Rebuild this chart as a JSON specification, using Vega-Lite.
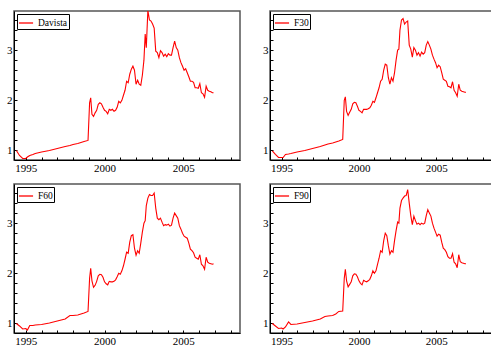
{
  "$schema": "https://vega.github.io/schema/vega-lite/v6.json",
  "padding": {"left": 0, "top": 10, "right": 2, "bottom": 0},
  "background": "white",
  "datasets": {
    "d": [
      {"t": 1994.4, "Davista": 1.0, "F30": 0.99, "F60": 1.0, "F90": 1.0},
      {"t": 1994.6, "Davista": 0.9, "F30": 0.92, "F60": 0.95, "F90": 0.95},
      {"t": 1994.8, "Davista": 0.84, "F30": 0.86, "F60": 0.89, "F90": 0.9},
      {"t": 1995.0, "Davista": 0.84, "F30": 0.86, "F60": 0.9, "F90": 0.91},
      {"t": 1995.1, "Davista": 0.87, "F30": 0.86, "F60": 0.87, "F90": 0.89},
      {"t": 1995.25, "Davista": 0.9, "F30": 0.92, "F60": 0.96, "F90": 0.93},
      {"t": 1995.45, "Davista": 0.92, "F30": 0.93, "F60": 0.96, "F90": 1.03},
      {"t": 1995.6, "Davista": 0.94, "F30": 0.94, "F60": 0.97, "F90": 0.98},
      {"t": 1996.0, "Davista": 0.97, "F30": 0.97, "F60": 0.98, "F90": 0.99},
      {"t": 1996.5, "Davista": 1.0, "F30": 1.0, "F60": 1.01, "F90": 1.02},
      {"t": 1997.0, "Davista": 1.04, "F30": 1.04, "F60": 1.05, "F90": 1.05},
      {"t": 1997.5, "Davista": 1.08, "F30": 1.08, "F60": 1.09, "F90": 1.09},
      {"t": 1997.8, "Davista": 1.1, "F30": 1.11, "F60": 1.16, "F90": 1.14},
      {"t": 1998.0, "Davista": 1.12, "F30": 1.13, "F60": 1.16, "F90": 1.15},
      {"t": 1998.3, "Davista": 1.14, "F30": 1.15, "F60": 1.17, "F90": 1.16},
      {"t": 1998.5, "Davista": 1.16, "F30": 1.17, "F60": 1.19, "F90": 1.19},
      {"t": 1998.7, "Davista": 1.18, "F30": 1.19, "F60": 1.21, "F90": 1.24},
      {"t": 1998.95, "Davista": 1.2, "F30": 1.22, "F60": 1.24, "F90": 1.25},
      {"t": 1999.05, "Davista": 1.95, "F30": 2.0, "F60": 1.9, "F90": 1.9},
      {"t": 1999.12, "Davista": 2.05, "F30": 2.07, "F60": 2.1, "F90": 2.08},
      {"t": 1999.2, "Davista": 1.72, "F30": 1.78, "F60": 1.85, "F90": 1.85},
      {"t": 1999.3, "Davista": 1.68, "F30": 1.7, "F60": 1.72, "F90": 1.73},
      {"t": 1999.4, "Davista": 1.75, "F30": 1.76, "F60": 1.76, "F90": 1.78},
      {"t": 1999.5, "Davista": 1.8, "F30": 1.82, "F60": 1.84, "F90": 1.83},
      {"t": 1999.6, "Davista": 1.92, "F30": 1.93, "F60": 1.95, "F90": 1.95},
      {"t": 1999.7, "Davista": 1.95, "F30": 1.96, "F60": 1.98, "F90": 1.99},
      {"t": 1999.8, "Davista": 1.93, "F30": 1.95, "F60": 1.97, "F90": 1.98},
      {"t": 1999.9, "Davista": 1.86, "F30": 1.88, "F60": 1.92, "F90": 1.93},
      {"t": 2000.0, "Davista": 1.8, "F30": 1.8, "F60": 1.83, "F90": 1.85},
      {"t": 2000.1, "Davista": 1.78, "F30": 1.78, "F60": 1.79, "F90": 1.8},
      {"t": 2000.2, "Davista": 1.73, "F30": 1.75, "F60": 1.77, "F90": 1.77},
      {"t": 2000.3, "Davista": 1.82, "F30": 1.82, "F60": 1.84, "F90": 1.86},
      {"t": 2000.4, "Davista": 1.8, "F30": 1.82, "F60": 1.83, "F90": 1.84},
      {"t": 2000.5, "Davista": 1.82, "F30": 1.82, "F60": 1.83, "F90": 1.83},
      {"t": 2000.6, "Davista": 1.78, "F30": 1.83, "F60": 1.84, "F90": 1.85},
      {"t": 2000.7, "Davista": 1.8, "F30": 1.85, "F60": 1.87, "F90": 1.88},
      {"t": 2000.8, "Davista": 1.86, "F30": 1.9, "F60": 1.93, "F90": 1.95},
      {"t": 2000.9, "Davista": 1.98, "F30": 1.98, "F60": 2.0, "F90": 2.05},
      {"t": 2001.0, "Davista": 1.95, "F30": 1.96, "F60": 1.98, "F90": 2.0},
      {"t": 2001.1, "Davista": 2.0, "F30": 2.05, "F60": 2.05, "F90": 2.05},
      {"t": 2001.2, "Davista": 2.1, "F30": 2.15, "F60": 2.15, "F90": 2.18},
      {"t": 2001.3, "Davista": 2.2, "F30": 2.25, "F60": 2.28, "F90": 2.3},
      {"t": 2001.4, "Davista": 2.38, "F30": 2.38, "F60": 2.42, "F90": 2.45},
      {"t": 2001.5, "Davista": 2.35, "F30": 2.42, "F60": 2.4, "F90": 2.42},
      {"t": 2001.6, "Davista": 2.52, "F30": 2.6, "F60": 2.62, "F90": 2.65},
      {"t": 2001.7, "Davista": 2.62, "F30": 2.72, "F60": 2.75, "F90": 2.8},
      {"t": 2001.8, "Davista": 2.68, "F30": 2.7, "F60": 2.77, "F90": 2.75},
      {"t": 2001.9, "Davista": 2.6, "F30": 2.45, "F60": 2.5, "F90": 2.55},
      {"t": 2002.0, "Davista": 2.32, "F30": 2.32, "F60": 2.36, "F90": 2.38},
      {"t": 2002.1, "Davista": 2.4, "F30": 2.45, "F60": 2.45, "F90": 2.45},
      {"t": 2002.2, "Davista": 2.32, "F30": 2.38, "F60": 2.4, "F90": 2.42},
      {"t": 2002.3, "Davista": 2.3, "F30": 2.55, "F60": 2.6, "F90": 2.65},
      {"t": 2002.4, "Davista": 2.5, "F30": 2.8, "F60": 2.82, "F90": 2.85},
      {"t": 2002.5, "Davista": 2.8, "F30": 3.0, "F60": 3.0, "F90": 3.02},
      {"t": 2002.58, "Davista": 3.32, "F30": 3.02, "F60": 3.05, "F90": 3.0},
      {"t": 2002.65, "Davista": 3.05, "F30": 3.4, "F60": 3.35, "F90": 3.3},
      {"t": 2002.75, "Davista": 3.79, "F30": 3.6, "F60": 3.5, "F90": 3.45},
      {"t": 2002.85, "Davista": 3.6, "F30": 3.63, "F60": 3.57, "F90": 3.5},
      {"t": 2002.95, "Davista": 3.58, "F30": 3.52, "F60": 3.55, "F90": 3.54},
      {"t": 2003.05, "Davista": 3.52, "F30": 3.56, "F60": 3.55, "F90": 3.55},
      {"t": 2003.15, "Davista": 3.44, "F30": 3.58, "F60": 3.6, "F90": 3.67},
      {"t": 2003.25, "Davista": 2.98, "F30": 3.1, "F60": 3.3, "F90": 3.4},
      {"t": 2003.35, "Davista": 2.95, "F30": 3.02, "F60": 3.1, "F90": 3.15},
      {"t": 2003.45, "Davista": 2.85, "F30": 2.86, "F60": 3.07, "F90": 2.97},
      {"t": 2003.55, "Davista": 2.99, "F30": 3.05, "F60": 3.1, "F90": 3.14},
      {"t": 2003.65, "Davista": 2.95, "F30": 3.0, "F60": 3.02, "F90": 3.05},
      {"t": 2003.75, "Davista": 2.88, "F30": 2.9, "F60": 2.95, "F90": 2.98},
      {"t": 2003.85, "Davista": 2.92, "F30": 2.95, "F60": 2.97, "F90": 3.0},
      {"t": 2003.95, "Davista": 2.87, "F30": 2.88, "F60": 2.96, "F90": 2.97},
      {"t": 2004.05, "Davista": 2.93, "F30": 2.96, "F60": 2.98, "F90": 3.0},
      {"t": 2004.15, "Davista": 2.9, "F30": 2.92, "F60": 2.94, "F90": 2.98},
      {"t": 2004.25, "Davista": 2.9, "F30": 2.95, "F60": 2.96, "F90": 3.0},
      {"t": 2004.35, "Davista": 3.05, "F30": 3.1, "F60": 3.1, "F90": 3.15},
      {"t": 2004.45, "Davista": 3.18, "F30": 3.17, "F60": 3.2, "F90": 3.27},
      {"t": 2004.55, "Davista": 3.05, "F30": 3.1, "F60": 3.15, "F90": 3.2},
      {"t": 2004.65, "Davista": 3.0, "F30": 3.02, "F60": 3.1, "F90": 3.14},
      {"t": 2004.75, "Davista": 2.85, "F30": 2.9, "F60": 2.95, "F90": 3.0},
      {"t": 2004.85, "Davista": 2.75, "F30": 2.82, "F60": 2.88, "F90": 2.9},
      {"t": 2004.95, "Davista": 2.68, "F30": 2.75, "F60": 2.8, "F90": 2.82},
      {"t": 2005.05, "Davista": 2.6, "F30": 2.65, "F60": 2.74, "F90": 2.74},
      {"t": 2005.15, "Davista": 2.63, "F30": 2.7, "F60": 2.72, "F90": 2.78},
      {"t": 2005.25, "Davista": 2.55, "F30": 2.67, "F60": 2.7, "F90": 2.76},
      {"t": 2005.35, "Davista": 2.47, "F30": 2.55, "F60": 2.6, "F90": 2.62},
      {"t": 2005.45, "Davista": 2.38, "F30": 2.42, "F60": 2.48, "F90": 2.5},
      {"t": 2005.55, "Davista": 2.38, "F30": 2.4, "F60": 2.45, "F90": 2.47},
      {"t": 2005.65, "Davista": 2.36, "F30": 2.38, "F60": 2.41, "F90": 2.42},
      {"t": 2005.75, "Davista": 2.25, "F30": 2.28, "F60": 2.32, "F90": 2.33},
      {"t": 2005.85, "Davista": 2.25, "F30": 2.27, "F60": 2.3, "F90": 2.3},
      {"t": 2005.95, "Davista": 2.24, "F30": 2.25, "F60": 2.28, "F90": 2.3},
      {"t": 2006.05, "Davista": 2.33, "F30": 2.37, "F60": 2.37, "F90": 2.39},
      {"t": 2006.15, "Davista": 2.15, "F30": 2.2, "F60": 2.18, "F90": 2.22},
      {"t": 2006.25, "Davista": 2.13, "F30": 2.15, "F60": 2.15, "F90": 2.19},
      {"t": 2006.35, "Davista": 2.06, "F30": 2.08, "F60": 2.08, "F90": 2.11},
      {"t": 2006.45, "Davista": 2.28, "F30": 2.32, "F60": 2.32, "F90": 2.37},
      {"t": 2006.55, "Davista": 2.2, "F30": 2.2, "F60": 2.22, "F90": 2.23},
      {"t": 2006.65, "Davista": 2.18, "F30": 2.18, "F60": 2.2, "F90": 2.21},
      {"t": 2006.75, "Davista": 2.17, "F30": 2.17, "F60": 2.19, "F90": 2.2},
      {"t": 2006.85, "Davista": 2.15, "F30": 2.16, "F60": 2.18, "F90": 2.19},
      {"t": 2006.92, "Davista": 2.15, "F30": 2.16, "F60": 2.19, "F90": 2.19}
    ]
  },
  "columns": 2,
  "spacing": {"row": 8, "column": 15},
  "resolve": {"scale": {"color": "independent"}, "legend": {"color": "independent"}},
  "concat": [
    {
      "width": 226, "height": 149,
      "data": {"name": "d"},
      "transform": [{"fold": ["Davista"], "as": ["series", "value"]}],
      "mark": {"type": "line", "strokeWidth": 1.1, "clip": true},
      "encoding": {
        "x": {"field": "t", "type": "quantitative", "title": null, "scale": {"domain": [1994.25, 2008.6], "nice": false, "zero": false},
              "axis": {"values": [1995, 1996, 1997, 1998, 1999, 2000, 2001, 2002, 2003, 2004, 2005, 2006, 2007, 2008], "labelExpr": "datum.value % 5 == 0 ? format(datum.value, 'd') : ''"}},
        "y": {"field": "value", "type": "quantitative", "title": null, "scale": {"domain": [0.81, 3.78], "nice": false, "zero": false},
              "axis": {"values": [1, 1.2, 1.4, 1.6, 1.8, 2, 2.2, 2.4, 2.6, 2.8, 3, 3.2, 3.4, 3.6], "labelExpr": "abs(datum.value - round(datum.value)) < 0.01 ? format(datum.value, 'd') : ''"}},
        "color": {"field": "series", "type": "nominal", "scale": {"range": ["#ff0000"]}, "legend": {"title": null}}
      }
    },
    {
      "width": 222, "height": 149,
      "data": {"name": "d"},
      "transform": [{"fold": ["F30"], "as": ["series", "value"]}],
      "mark": {"type": "line", "strokeWidth": 1.1, "clip": true},
      "encoding": {
        "x": {"field": "t", "type": "quantitative", "title": null, "scale": {"domain": [1994.25, 2008.6], "nice": false, "zero": false},
              "axis": {"values": [1995, 1996, 1997, 1998, 1999, 2000, 2001, 2002, 2003, 2004, 2005, 2006, 2007, 2008], "labelExpr": "datum.value % 5 == 0 ? format(datum.value, 'd') : ''"}},
        "y": {"field": "value", "type": "quantitative", "title": null, "scale": {"domain": [0.81, 3.78], "nice": false, "zero": false},
              "axis": {"values": [1, 1.2, 1.4, 1.6, 1.8, 2, 2.2, 2.4, 2.6, 2.8, 3, 3.2, 3.4, 3.6], "labelExpr": "abs(datum.value - round(datum.value)) < 0.01 ? format(datum.value, 'd') : ''"}},
        "color": {"field": "series", "type": "nominal", "scale": {"range": ["#ff0000"]}, "legend": {"title": null}}
      }
    },
    {
      "width": 226, "height": 149,
      "data": {"name": "d"},
      "transform": [{"fold": ["F60"], "as": ["series", "value"]}],
      "mark": {"type": "line", "strokeWidth": 1.1, "clip": true},
      "encoding": {
        "x": {"field": "t", "type": "quantitative", "title": null, "scale": {"domain": [1994.25, 2008.6], "nice": false, "zero": false},
              "axis": {"values": [1995, 1996, 1997, 1998, 1999, 2000, 2001, 2002, 2003, 2004, 2005, 2006, 2007, 2008], "labelExpr": "datum.value % 5 == 0 ? format(datum.value, 'd') : ''"}},
        "y": {"field": "value", "type": "quantitative", "title": null, "scale": {"domain": [0.81, 3.78], "nice": false, "zero": false},
              "axis": {"values": [1, 1.2, 1.4, 1.6, 1.8, 2, 2.2, 2.4, 2.6, 2.8, 3, 3.2, 3.4, 3.6], "labelExpr": "abs(datum.value - round(datum.value)) < 0.01 ? format(datum.value, 'd') : ''"}},
        "color": {"field": "series", "type": "nominal", "scale": {"range": ["#ff0000"]}, "legend": {"title": null}}
      }
    },
    {
      "width": 222, "height": 149,
      "data": {"name": "d"},
      "transform": [{"fold": ["F90"], "as": ["series", "value"]}],
      "mark": {"type": "line", "strokeWidth": 1.1, "clip": true},
      "encoding": {
        "x": {"field": "t", "type": "quantitative", "title": null, "scale": {"domain": [1994.25, 2008.6], "nice": false, "zero": false},
              "axis": {"values": [1995, 1996, 1997, 1998, 1999, 2000, 2001, 2002, 2003, 2004, 2005, 2006, 2007, 2008], "labelExpr": "datum.value % 5 == 0 ? format(datum.value, 'd') : ''"}},
        "y": {"field": "value", "type": "quantitative", "title": null, "scale": {"domain": [0.81, 3.78], "nice": false, "zero": false},
              "axis": {"values": [1, 1.2, 1.4, 1.6, 1.8, 2, 2.2, 2.4, 2.6, 2.8, 3, 3.2, 3.4, 3.6], "labelExpr": "abs(datum.value - round(datum.value)) < 0.01 ? format(datum.value, 'd') : ''"}},
        "color": {"field": "series", "type": "nominal", "scale": {"range": ["#ff0000"]}, "legend": {"title": null}}
      }
    }
  ],
  "config": {
    "font": "Liberation Serif",
    "view": {"stroke": "#555", "strokeWidth": 1.5},
    "axis": {
      "grid": false,
      "domainColor": "#000",
      "domainWidth": 1,
      "tickColor": "#000",
      "tickWidth": 1,
      "tickSize": -3,
      "labelPadding": 5,
      "labelColor": "#000",
      "labelFont": "Liberation Serif",
      "labelFontSize": 11,
      "labelFlush": false,
      "labelOverlap": false
    },
    "axisX": {"minExtent": 14, "maxExtent": 14},
    "axisY": {"minExtent": 13, "maxExtent": 13},
    "legend": {
      "orient": "top-left",
      "offset": 3,
      "padding": 1,
      "rowPadding": 0,
      "strokeColor": "#000",
      "strokeWidth": 1,
      "fillColor": "white",
      "symbolType": "stroke",
      "symbolSize": 200,
      "symbolStrokeWidth": 1.3,
      "labelFont": "Liberation Serif",
      "labelFontSize": 9.5,
      "labelOffset": 4,
      "labelColor": "#000"
    }
  }
}
